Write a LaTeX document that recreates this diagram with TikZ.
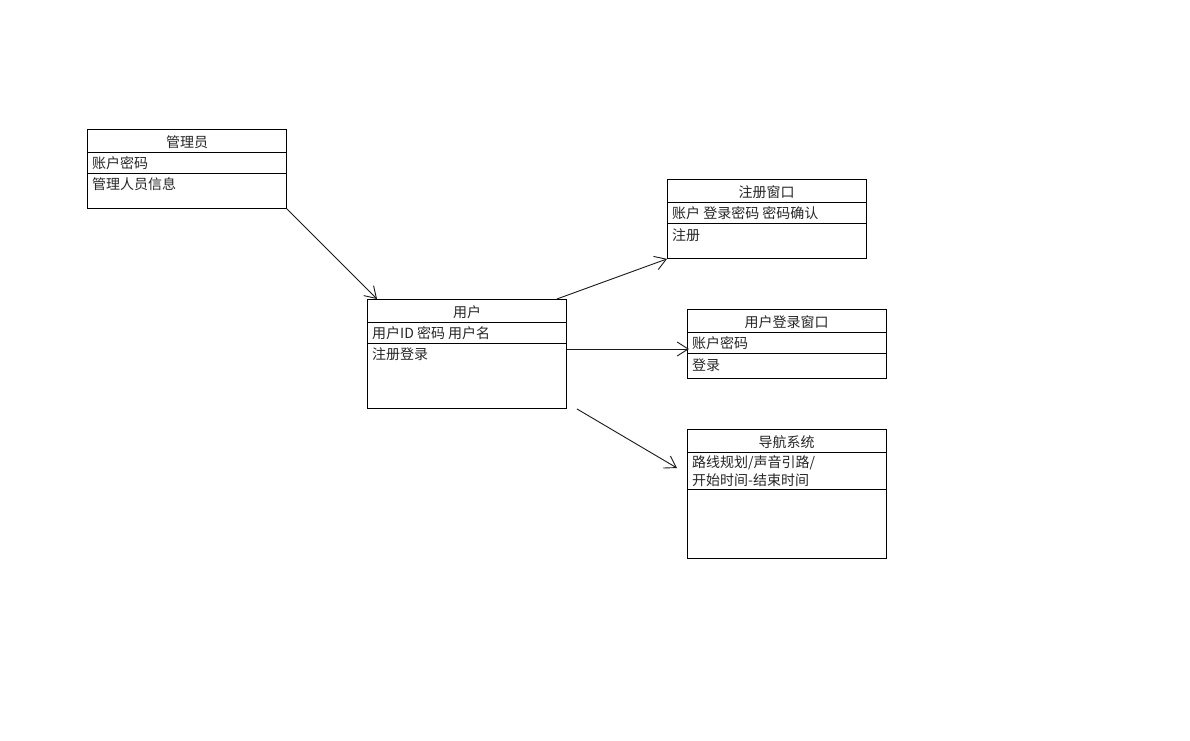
\documentclass[tikz,border=0pt]{standalone}
\usepackage{fontspec}
\setmainfont{Noto Sans CJK SC}
\usetikzlibrary{arrows.meta}
\begin{document}
\begin{tikzpicture}[x=1pt,y=-1pt,
  box/.style={draw=black, line width=0.9pt, inner sep=0pt, anchor=north west, minimum width=199pt},
  divider/.style={draw=black, line width=0.9pt},
  hdr/.style={inner sep=0pt, font=\fontsize{14}{16}\selectfont, text=black!85},
  row/.style={inner sep=0pt, anchor=west, font=\fontsize{14}{16}\selectfont, text=black!85, align=left},
  conn/.style={draw=black!90, line width=0.9pt, -{Straight Barb[length=11pt,width=14pt,line width=0.9pt]}}]
\useasboundingbox[fill=white] (0,0) rectangle (1190,740);

% 管理员
\node[box, minimum height=79pt] (adm) at (87,129) {};
\draw[divider] (87,152) -- (287,152);
\draw[divider] (87,173) -- (287,173);
\node[hdr] (admh) at (187,142) {管理员};
\node[row] (adm1) at (92,163) {账户密码};
\node[row] (adm2) at (92,184) {管理人员信息};

% 用户
\node[box, minimum height=109pt] (usr) at (367,299) {};
\draw[divider] (367,322) -- (567,322);
\draw[divider] (367,343) -- (567,343);
\node[hdr] (usrh) at (467,312) {用户};
\node[row] (usr1) at (372,333) {用户ID 密码 用户名};
\node[row] (usr2) at (372,354) {注册登录};

% 注册窗口
\node[box, minimum height=79pt] (reg) at (667,179) {};
\draw[divider] (667,202) -- (866,202);
\draw[divider] (667,223) -- (866,223);
\node[hdr] (regh) at (766.5,192) {注册窗口};
\node[row] (reg1) at (672,213) {账户 登录密码 密码确认};
\node[row] (reg2) at (672,235) {注册};

% 用户登录窗口
\node[box, minimum height=69pt] (log) at (687,309) {};
\draw[divider] (687,332) -- (886,332);
\draw[divider] (687,353) -- (886,353);
\node[hdr] (logh) at (786.5,322) {用户登录窗口};
\node[row] (log1) at (692,343) {账户密码};
\node[row] (log2) at (692,365) {登录};

% 导航系统
\node[box, minimum height=129pt] (nav) at (687,429) {};
\draw[divider] (687,452) -- (886,452);
\draw[divider] (687,489) -- (886,489);
\node[hdr] (navh) at (786.5,442) {导航系统};
\node[row] (nav1) at (692,463) {路线规划/声音引路/};
\node[row] (nav2) at (692,480) {开始时间-结束时间};

% connectors
\draw[conn] (adm.south east) -- ([shift={(10,0)}]usr.north west);
\draw[conn] ([shift={(-10,0)}]usr.north east) -- (reg.south west);
\draw[conn] ([shift={(0,50)}]usr.north east) -- ([shift={(2,40)}]log.north west);
\draw[conn] ([shift={(10,0)}]usr.south east) -- ([shift={(-10,39)}]nav.north west);
\end{tikzpicture}
\end{document}
